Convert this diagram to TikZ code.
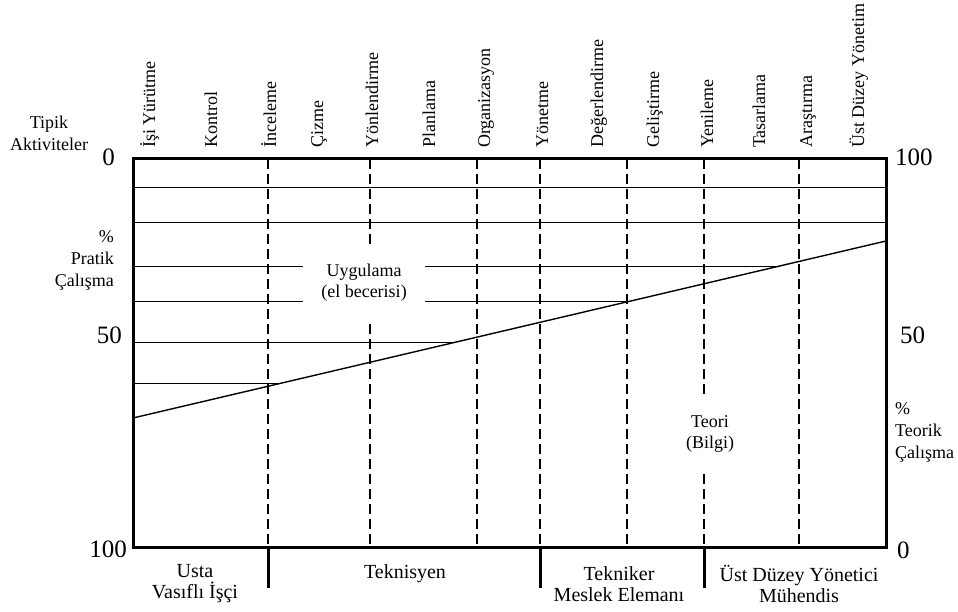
\documentclass[tikz,border=0pt]{standalone}
\usepackage{fontspec}
\setmainfont{Liberation Serif}
\begin{document}
\begin{tikzpicture}[x=1pt,y=-1pt,
  frame/.style={line width=3pt},
  gridline/.style={line width=0.9pt},
  dashline/.style={line width=1.2pt, dash pattern=on 10pt off 5pt},
  slopeline/.style={line width=1.4pt},
  act/.style={rotate=90, anchor=base west, inner sep=0pt, font=\fontsize{18}{20}\selectfont},
  num/.style={font=\fontsize{25}{27}\selectfont, inner sep=0pt},
  side/.style={font=\fontsize{18}{22}\selectfont, inner sep=0pt},
  cat/.style={font=\fontsize{20}{21}\selectfont, align=center, inner sep=0pt},
  zone/.style={fill=white, align=center, inner sep=0pt, font=\fontsize{18}{21}\selectfont}]
\useasboundingbox (0,0) rectangle (958,612);

% slope line
\coordinate (A) at (133,418);
\coordinate (B) at (886,241);

% horizontal lines
\draw[gridline] (133,187) -- (886,187);
\draw[gridline] (133,222) -- (886,222);
\draw[gridline] (133,266) -- (779.6,266);
\draw[gridline] (133,301) -- (630.7,301);
\draw[gridline] (133,342) -- (456,342);
\draw[gridline] (133,383) -- (282,383);
\draw[slopeline] (A) -- (B);

% dashed verticals
\foreach \x in {268,370,477,540,627,704,799}
  \draw[dashline] (\x,159) -- (\x,547);

% zone labels (mask lines)
\node[zone, minimum width=122pt, minimum height=75pt] (uyg) at (364,283) {Uygulama\\(el becerisi)};
\node[zone, minimum width=60pt, minimum height=73pt] (teo) at (710,434) {Teori\\(Bilgi)};

% frame
\draw[frame] (133,159) rectangle (886,547);
\foreach \x in {268,540,704}
  \draw[frame] (\x,547) -- (\x,588);

% activities
\node[act] (a1) at (155,148) {İşi Yürütme};
\node[act] (a2) at (217,148) {Kontrol};
\node[act] (a3) at (276,148) {İnceleme};
\node[act] (a4) at (323,148) {Çizme};
\node[act] (a5) at (378,148) {Yönlendirme};
\node[act] (a6) at (435,148) {Planlama};
\node[act] (a7) at (490,148) {Organizasyon};
\node[act] (a8) at (548,148) {Yönetme};
\node[act] (a9) at (603,148) {Değerlendirme};
\node[act] (a10) at (659,148) {Geliştirme};
\node[act] (a11) at (713,148) {Yenileme};
\node[act] (a12) at (765,148) {Tasarlama};
\node[act] (a13) at (812,148) {Araştırma};
\node[act] (a14) at (864,148) {Üst Düzey Yönetim};

% numbers
\node[num, anchor=east] (l0) at (115,157) {0};
\node[num, anchor=east] (l50) at (122,335) {50};
\node[num, anchor=east] (l100) at (127,549) {100};
\node[num, anchor=west] (r100) at (895,157) {100};
\node[num, anchor=west] (r50) at (900,335) {50};
\node[num, anchor=west] (r0) at (897,550) {0};

% side labels
\node[side, align=center] (tipik) at (49,133) {Tipik\\Aktiviteler};
\node[side, align=right, anchor=east] (prat) at (114,260) {\%\\Pratik\\Çalışma};
\node[side, align=left, anchor=west] (teor) at (895,432) {\%\\Teorik\\Çalışma};

% categories
\node[cat] (c1) at (195,584) {Usta\\Vasıflı İşçi};
\node[cat] (c2) at (405,574) {Teknisyen};
\node[cat] (c3) at (619,584) {Tekniker\\Meslek Elemanı};
\node[cat] (c4) at (799,584) {Üst Düzey Yönetici\\Mühendis};
\end{tikzpicture}
\end{document}
